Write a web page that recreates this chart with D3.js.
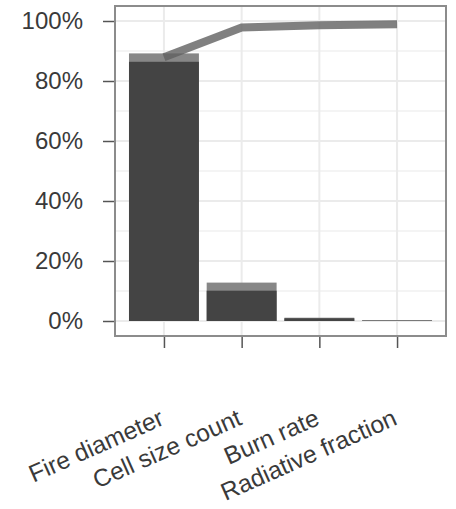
<!DOCTYPE html>
<html>
<head>
<meta charset="utf-8">
<script src="https://cdn.jsdelivr.net/npm/d3@7"></script>
<style>
  body { margin: 0; background: #ffffff; }
  svg { display: block; font-family: "Liberation Sans", Arial, sans-serif; }
</style>
</head>
<body>
<div id="chart"></div>
<script>
// categories along the x axis
const categories = ["Fire diameter", "Cell size count", "Burn rate", "Radiative fraction"];
// light (back) bars and dark (front) bars, in percent
const totalValues = [89.2, 12.8, 1.1, 0.3];
const firstValues = [86.4, 10.1, 0.9, 0.1];
// cumulative line, in percent
const cumulativeValues = [87.9, 97.8, 98.6, 98.9];
// tick values
const yTicks = [0, 20, 40, 60, 80, 100];
const yMinorTicks = [10, 30, 50, 70, 90];

const W = 456, H = 509;
//panel edges
const panel = {left: 115, right: 446, top: 6, bottom: 336};

const svg = d3.select("#chart")
    .append("svg")
    .attr("width", W)
    .attr("height", H);

const xScale = d3.scalePoint()
    .domain(categories)
    .range([panel.left, panel.right])
    .padding(0.63);

const yScale = d3.scaleLinear()
    .domain([-5, 105])
    .range([panel.bottom, panel.top]);

const barWidth = xScale.step() * 0.9;

//gridlines
svg.append("g")
    .selectAll("line")
    .data(yMinorTicks)
    .join("line")
    .attr("x1", panel.left).attr("x2", panel.right)
    .attr("y1", d => yScale(d)).attr("y2", d => yScale(d))
    .attr("stroke", "#f4f4f4")
    .attr("stroke-width", 2);

svg.append("g")
    .selectAll("line")
    .data(yTicks)
    .join("line")
    .attr("x1", panel.left).attr("x2", panel.right)
    .attr("y1", d => yScale(d)).attr("y2", d => yScale(d))
    .attr("stroke", "#ebebeb")
    .attr("stroke-width", 2);

svg.append("g")
    .selectAll("line")
    .data(categories)
    .join("line")
    .attr("x1", d => xScale(d)).attr("x2", d => xScale(d))
    .attr("y1", panel.top).attr("y2", panel.bottom)
    .attr("stroke", "#ebebeb")
    .attr("stroke-width", 2);

//bars
svg.append("g")
    .selectAll("rect")
    .data(categories)
    .join("rect")
    .attr("x", d => xScale(d) - barWidth / 2)
    .attr("width", barWidth)
    .attr("y", (d, i) => yScale(totalValues[i]))
    .attr("height", (d, i) => yScale(0) - yScale(totalValues[i]))
    .attr("fill", "#878787");

svg.append("g")
    .selectAll("rect")
    .data(categories)
    .join("rect")
    .attr("x", d => xScale(d) - barWidth / 2)
    .attr("width", barWidth)
    .attr("y", (d, i) => yScale(firstValues[i]))
    .attr("height", (d, i) => yScale(0) - yScale(firstValues[i]))
    .attr("fill", "#444444");

//cumulative line
const line = d3.line()
    .x(d => xScale(d.cat))
    .y(d => yScale(d.val));

svg.append("path")
    .datum(categories.map((c, i) => ({cat: c, val: cumulativeValues[i]})))
    .attr("fill", "none")
    .attr("stroke", "#606060")
    .attr("stroke-opacity", 0.8)
    .attr("stroke-width", 8)
    .attr("d", line);

//panel border
svg.append("rect")
    .attr("x", panel.left)
    .attr("y", panel.top)
    .attr("width", panel.right - panel.left)
    .attr("height", panel.bottom - panel.top)
    .attr("fill", "none")
    .attr("stroke", "#8c8c8c")
    .attr("stroke-width", 2);

//y axis
const yAxis = svg.append("g")
    .attr("transform", `translate(${panel.left - 1},0)`)
    .call(d3.axisLeft(yScale).tickValues(yTicks).tickFormat(d => d + "%").tickSize(11).tickPadding(20));
yAxis.select(".domain").remove();
yAxis.selectAll(".tick line").attr("stroke", "#555").attr("stroke-width", 1.5);
yAxis.selectAll("text")
    .attr("font-size", 24)
    .attr("font-family", "Liberation Sans, Arial, sans-serif")
    .attr("fill", "#3a3a3a");

//x axis
const xAxis = svg.append("g")
    .attr("transform", `translate(0,${panel.bottom + 1})`)
    .call(d3.axisBottom(xScale).tickSize(11));
xAxis.select(".domain").remove();
xAxis.selectAll(".tick line").attr("stroke", "#555").attr("stroke-width", 1.5);
xAxis.selectAll("text")
    .attr("y", 0)
    .attr("dy", 0)
    .attr("text-anchor", "end")
    .attr("transform", "translate(1,87) rotate(-24)")
    .attr("font-size", 24.5)
    .attr("font-family", "Liberation Sans, Arial, sans-serif")
    .attr("fill", "#3a3a3a");
</script>
</body>
</html>
